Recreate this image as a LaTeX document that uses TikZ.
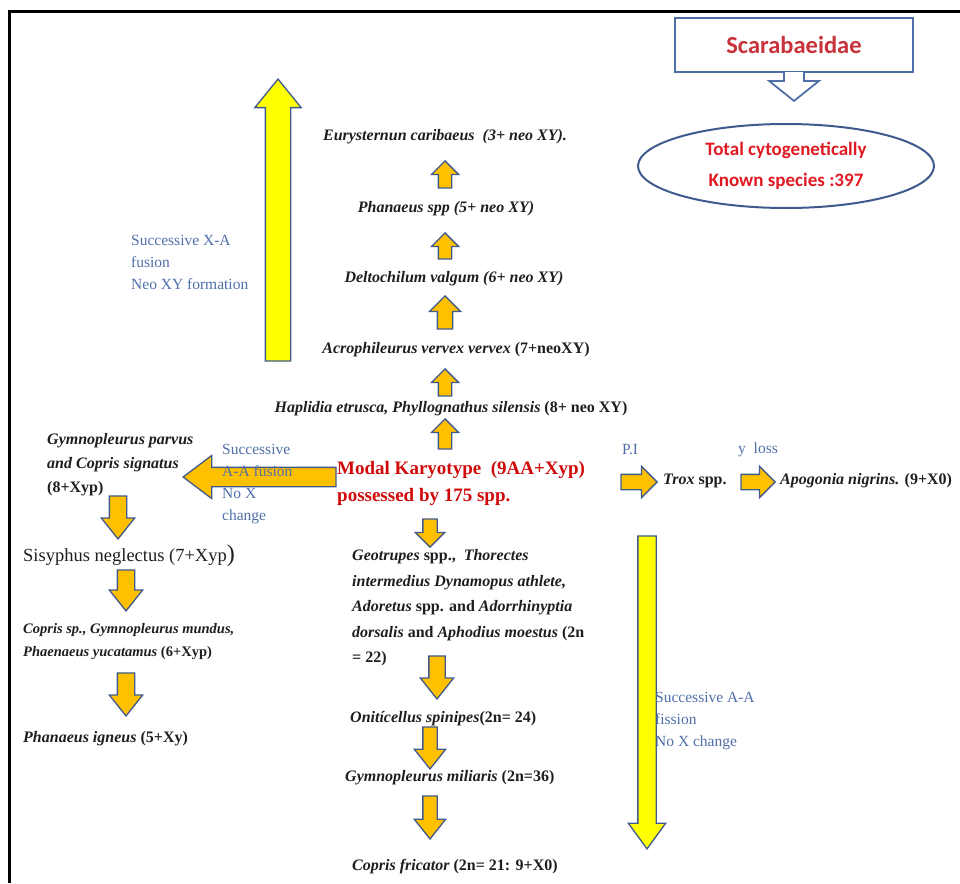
\documentclass[tikz,border=0pt]{standalone}
\usepackage{fontspec}
\setmainfont{Liberation Serif}
\newfontfamily\calibfont{Carlito}
\usetikzlibrary{shapes.arrows,shapes.geometric,positioning}

\definecolor{amber}{HTML}{FFC000}
\definecolor{lemon}{HTML}{FFFF00}
\definecolor{rim}{HTML}{3F5A8C}
\definecolor{notecol}{HTML}{4F6FA8}
\definecolor{modalred}{HTML}{D00A0A}
\definecolor{titlered}{HTML}{C8323A}
\definecolor{totalred}{HTML}{E01A22}
\definecolor{inkgrey}{HTML}{1E1E1E}

\tikzset{
  spec/.style={font=\fontsize{16}{24}\selectfont\bfseries\itshape, text=inkgrey, inner sep=0pt, align=left},
  note/.style={font=\fontsize{15.5}{22}\selectfont, text=notecol, inner sep=0pt, align=left, anchor=west},
  blockarrow/.style={single arrow, draw=rim, line width=1.3pt, single arrow head indent=0pt, anchor=tip},
  arrowsize/.style n args={4}{minimum height=#1, minimum width=0pt, inner xsep=0pt, inner ysep=#2, single arrow head extend=#3, single arrow tip angle=#4},
  amberup/.style={blockarrow, fill=amber, rotate=90},
  amberdown/.style={blockarrow, fill=amber, rotate=-90}
}

\begin{document}
\begin{tikzpicture}[x=1pt, y=-1pt]
  \useasboundingbox (0,0) rectangle (960,883);
  % frame
  \draw[line width=3pt] (8,12) -- (960,12);
  \draw[line width=3pt] (9.5,12) -- (9.5,883);

  % family box and total
  \node (title) [draw=notecol, line width=1.8pt, minimum width=238pt, minimum height=54pt, text=titlered, font=\calibfont\bfseries\fontsize{24.5}{28}\selectfont] at (794,45) {Scarabaeidae};
  \fill[white] ([xshift=-9.1pt,yshift=1.2pt]title.south) rectangle ([xshift=9.1pt,yshift=-1.2pt]title.south);
  \draw[draw=notecol, line width=1.8pt, fill=white] ([xshift=-10pt]title.south) -- ++(0,8) -- ++(-15,0) -- ++(25,20) -- ++(25,-20) -- ++(-15,0) -- ++(0,-8);
  \node (total) [ellipse, draw=rim, line width=2pt, minimum width=296pt, minimum height=84pt, align=center, text=totalred, font=\calibfont\bfseries\fontsize{19}{31}\selectfont] at (786,166) {Total cytogenetically\\Known species :397};

  % X-A fusion branch
  \node (xafuse) [blockarrow, fill=lemon, rotate=90, arrowsize={282pt}{12pt}{10.5pt}{78}] at (278,78) {};
  \node (xanote) [note] at (131,262) {Successive X-A\\fusion\\Neo XY formation};
  \node (eury) [spec] at (445,137) {Eurysternun caribaeus\ \ (3+ neo XY).};
  \node (up1) [amberup, arrowsize={27pt}{6pt}{7pt}{90}] at (445,160) {};
  \node (phan) [spec] at (446,209) {Phanaeus spp (5+ neo XY)};
  \node (up2) [amberup, arrowsize={26pt}{6pt}{7pt}{90}] at (445,232) {};
  \node (delto) [spec] at (454,279) {Deltochilum valgum (6+ neo XY)};
  \node (up3) [amberup, arrowsize={33pt}{7pt}{8pt}{90}] at (445,295) {};
  \node (acro) [spec] at (456,350) {Acrophileurus vervex vervex \textup{(7+neoXY)}};
  \node (up4) [amberup, arrowsize={27pt}{6pt}{7pt}{90}] at (445,368) {};
  \node (hapl) [spec] at (451,409) {Haplidia etrusca, Phyllognathus silensis \textup{(8+ neo XY)}};
  \node (up5) [amberup, arrowsize={30pt}{6pt}{7pt}{90}] at (445,418) {};

  % modal karyotype
  \node (modal) [anchor=west, align=left, inner sep=0pt, text=modalred, font=\bfseries\fontsize{19}{27}\selectfont] at (337,483.5) {Modal Karyotype\ \ (9AA+Xyp)\\possessed by 175 spp.};

  % A-A fusion branch
  \node (aaleft) [blockarrow, fill=amber, rotate=180, arrowsize={153pt}{9pt}{12pt}{74}] at (182,477) {};
  \node (aanote) [note] at (222,484) {Successive\\A-A fusion\\No X\\change};
  \node (parv) [spec, anchor=west] at (47,465) {Gymnopleurus parvus\\and Copris signatus\\\textup{(8+Xyp)}};
  \node (lf1) [amberdown, arrowsize={43pt}{8pt}{8pt}{77}] at (118,540) {};
  \node (sisy) [anchor=west, inner sep=0pt, text=inkgrey, font=\fontsize{18.5}{20}\selectfont] at (23,556) {Sisyphus neglectus (7+Xyp{\fontsize{24}{24}\selectfont)}};
  \node (lf2) [amberdown, arrowsize={41pt}{8pt}{8pt}{77}] at (126,612) {};
  \node (copr) [spec, anchor=west, font=\fontsize{14.5}{23}\selectfont\bfseries\itshape] at (23,642) {Copris sp., Gymnopleurus mundus,\\Phaenaeus yucatamus \textup{(6+Xyp)}};
  \node (lf3) [amberdown, arrowsize={43pt}{8pt}{8pt}{77}] at (126,717) {};
  \node (igne) [spec, anchor=west] at (23,739) {Phanaeus igneus \textup{(5+Xy)}};

  % centre downward line
  \node (dn1) [amberdown, arrowsize={28pt}{6.5pt}{7.5pt}{90}] at (430,548) {};
  \node (geot) [spec, anchor=west, font=\fontsize{16}{25.5}\selectfont\bfseries\itshape] at (352,608) {Geotrupes \textup{spp.,}\ \ Thorectes\\intermedius Dynamopus athlete,\\Adoretus \textup{spp. and} Adorrhinyptia\\dorsalis \textup{and} Aphodius moestus \textup{(2n}\\\textup{= 22)}};
  \node (dn2) [amberdown, arrowsize={43pt}{7.5pt}{8.5pt}{77}] at (437,700) {};
  \node (onit) [spec, anchor=west] at (350,719) {Onitícellus spinipes\textup{(2n= 24)}};
  \node (dn3) [amberdown, arrowsize={42pt}{6.5pt}{8.5pt}{77}] at (430,770) {};
  \node (mili) [spec, anchor=west] at (345,778) {Gymnopleurus miliaris \textup{(2n=36)}};
  \node (dn4) [amberdown, arrowsize={43pt}{6.5pt}{8.5pt}{77}] at (430,840) {};
  \node (fric) [spec, anchor=west] at (352,867) {Copris fricator \textup{(2n= 21: 9+X0)}};

  % right branch
  \node (pinote) [note] at (622,450) {P.I};
  \node (rt1) [blockarrow, fill=amber, arrowsize={36pt}{7pt}{8pt}{90}] at (658,482) {};
  \node (trox) [spec, anchor=west] at (663,481) {Trox \textup{spp.}};
  \node (ynote) [note] at (738,450) {y\ \ loss};
  \node (rt2) [blockarrow, fill=amber, arrowsize={34pt}{7pt}{8pt}{90}] at (776,482) {};
  \node (apog) [spec, anchor=west] at (780,481) {Apogonia nigrins. \textup{(9+X0)}};
  \node (aafiss) [blockarrow, fill=lemon, rotate=-90, arrowsize={313pt}{8.5pt}{9.5pt}{72}] at (647,850) {};
  \node (aanote2) [note] at (655,721.5) {Successive A-A\\fission\\No X change};
\end{tikzpicture}
\end{document}
